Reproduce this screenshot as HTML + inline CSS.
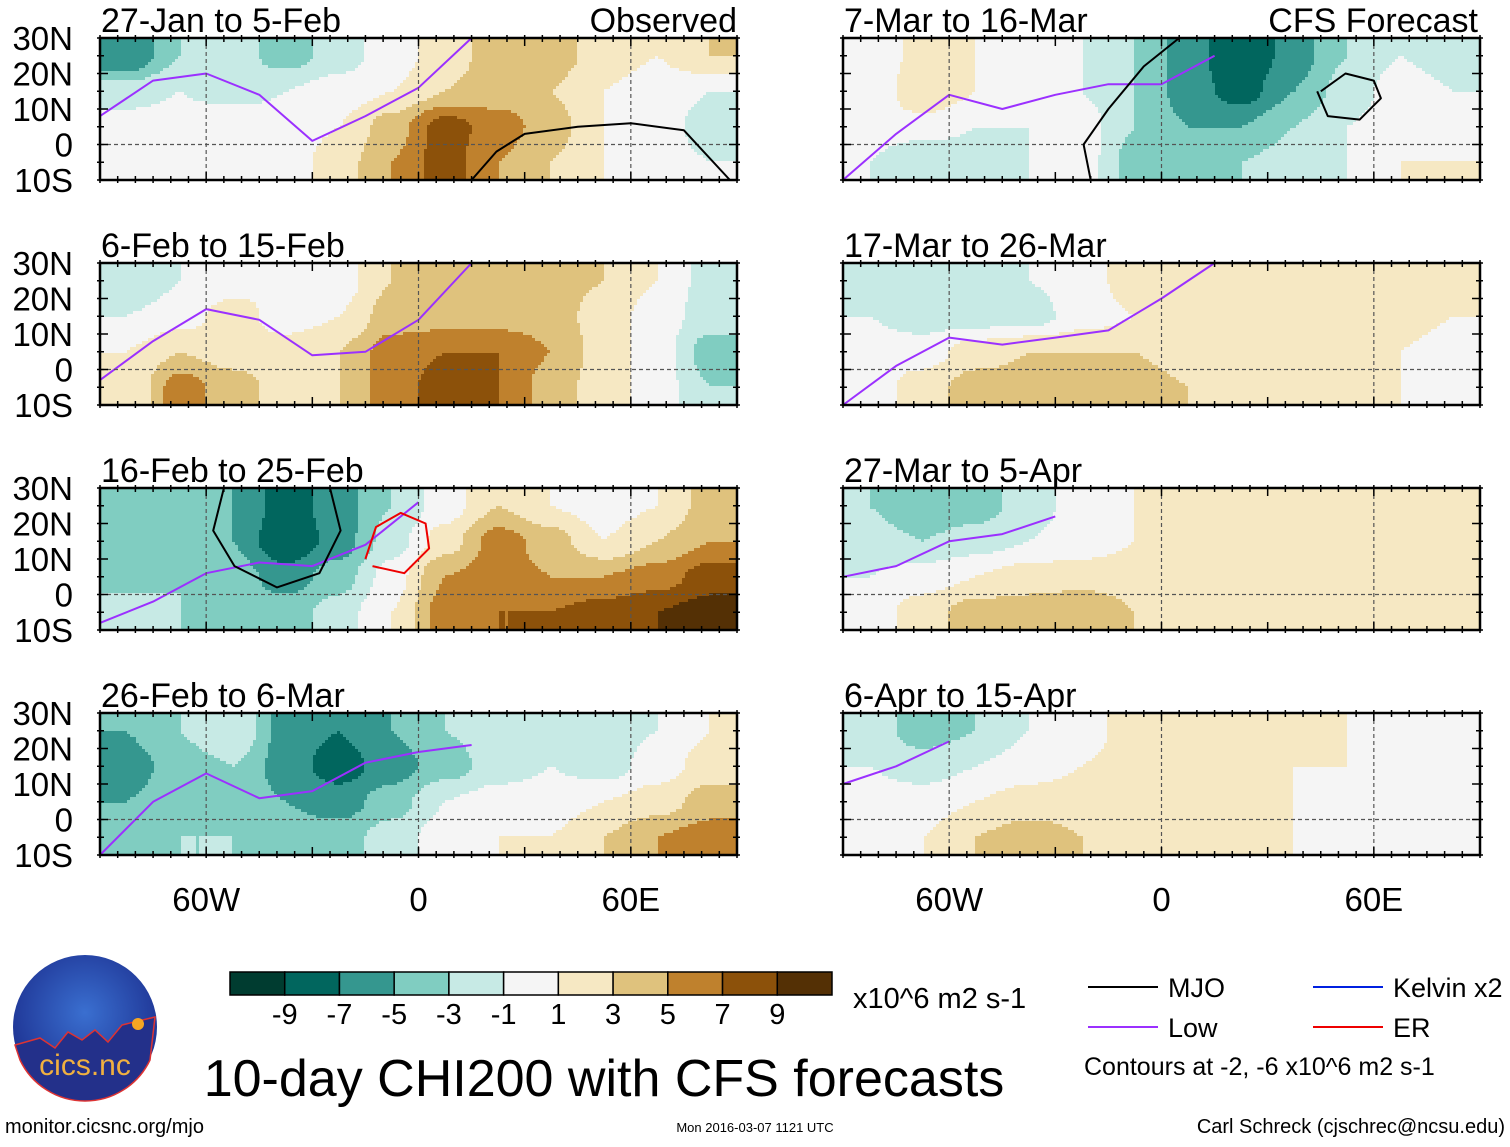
<!DOCTYPE html>
<html><head><meta charset="utf-8">
<style>
html,body{margin:0;padding:0;background:#fff;}
body{width:1510px;height:1142px;overflow:hidden;font-family:"Liberation Sans",Arial,sans-serif;}
</style></head>
<body>
<svg id="fig" width="1510" height="1142" viewBox="0 0 1510 1142" xmlns="http://www.w3.org/2000/svg" font-family="Liberation Sans, Arial, sans-serif">
<defs>
<radialGradient id="logoGrad" cx="50%" cy="40%" r="60%"><stop offset="0" stop-color="#3a6fd0"/><stop offset="1" stop-color="#1c2f8f"/></radialGradient>
</defs>
</svg>
<script>
// ---- data ----
const lonCenters = [-82.5,-67.5,-52.5,-37.5,-22.5,-7.5,7.5,22.5,37.5,52.5,67.5,82.5];
const latCenters = [25,15,5,-5];
const panelTitles = ["27-Jan to 5-Feb","6-Feb to 15-Feb","16-Feb to 25-Feb","26-Feb to 6-Mar","7-Mar to 16-Mar","17-Mar to 26-Mar","27-Mar to 5-Apr","6-Apr to 15-Apr"];
const p1 = [[-7,-3,-2,-4,-2,0,2,4,4,2,1,3],[-2,-1,-2,-1,0,1,3,4,3,1,0,-1],[0,0,1,0,1,4,8,6,4,1,0,-2],[0,1,0,0,2,5,8,5,3,1,0,-1]];
const p2 = [[-3,-1,0,1,0,3,3,4,4,3,1,-2],[-1,0,2,0,1,4,4,4,4,2,0,-2],[1,3,2,2,3,6,7,7,5,2,0,-4],[1,6,4,2,3,6,8,7,4,2,0,-3]];
const p3 = [[-4,-5,-5,-8,-6,-3,0,3,1,0,1,4],[-5,-4,-5,-9,-6,-2,2,6,4,1,3,5],[-4,-3,-4,-6,-4,0,5,6,5,5,6,8],[-2,-3,-4,-4,-2,1,6,7,7,8,9,10]];
const p4 = [[-5,-3,-1,-6,-7,-5,-3,-2,-1,-2,-1,1],[-6,-4,-3,-6,-8,-6,-4,-2,-1,-2,0,2],[-5,-4,-4,-5,-6,-4,-1,0,0,1,2,4],[-4,-3,-3,-4,-4,-2,0,1,1,3,5,6]];
const p5 = [[-1,2,1,-1,-1,-3,-6,-9,-6,-3,-1,-2],[-1,3,1,-1,-1,-3,-6,-8,-5,-2,0,-1],[0,0,-1,-1,0,-3,-5,-5,-3,-1,0,0],[-1,-3,-2,-1,0,-4,-4,-3,-2,-1,1,1]];
const p6 = [[-2,-3,-2,-1,0,2,2,2,2,2,2,1],[-1,-2,-2,-2,0,1,2,2,2,2,2,1],[0,0,2,3,3,3,2,2,2,2,1,0],[0,2,4,4,4,4,3,2,1,1,1,-1]];
const p7 = [[-3,-5,-4,-2,0,1,2,3,2,2,2,1],[-2,-3,-2,-1,0,1,2,2,2,2,2,3],[-1,0,1,2,2,2,2,2,2,2,2,2],[0,2,4,4,5,3,2,1,1,1,1,1]];
const p8 = [[-2,-4,-3,-1,0,2,2,3,2,1,0,-1],[-1,-2,-1,0,1,2,2,2,1,1,0,-1],[0,0,1,2,2,2,2,1,1,0,0,-1],[0,1,3,4,3,2,1,1,1,0,0,0]];
const panelFields = [p1,p2,p3,p4,p5,p6,p7,p8];
const lowLons = [-90,-75,-60,-45,-30,-15,0,15,30,45,60,75,90];
const lowLats = [
 [8,18,20,14,1,8,16,30,null,null,null,null,null],
 [-3,8,17,14,4,5,14,30,null,null,null,null,null],
 [-8,-2,6,9,8,14,26,null,null,null,null,null,null],
 [-10,5,13,6,8,16,19,21,null,null,null,null,null],
 [-10,3,14,10,14,17,17,25,null,null,null,null,null],
 [-10,1,9,7,9,11,20,30,null,null,null,null,null],
 [5,8,15,17,22,null,null,null,null,null,null,null,null],
 [10,15,22,null,null,null,null,null,null,null,null,null,null]
];
const cbBounds = ["-9","-7","-5","-3","-1","1","3","5","7","9"];
const cbColors = ["#003c30","#01665e","#35978f","#80cdc1","#c7eae5","#f5f5f5","#f6e8c3","#dfc27d","#bf812d","#8c510a","#543005"];
const latTicks = ["30N","20N","10N","0","10S"];
const lonTickLabels = ["60W","0","60E"];
const lonTickVals = [-60,0,60];

const NS="http://www.w3.org/2000/svg";
const svg=document.getElementById('fig');
function mk(tag,attrs,parent){const e=document.createElementNS(NS,tag);for(const k in attrs)e.setAttribute(k,attrs[k]);(parent||svg).appendChild(e);return e;}
const colX=[100,843], W=637, rowY=[38,263,488,713], H=142;
function colorIdx(v){const b=[-9,-7,-5,-3,-1,1,3,5,7,9];let i=0;while(i<b.length&&v>=b[i])i++;return i;}
function interp(f,lon,lat){
  const cl=(v,a,b)=>Math.max(a,Math.min(b,v));
  let fx=cl((lon+82.5)/15,0,11), fy=cl((25-lat)/10,0,3);
  let i=Math.min(10,Math.floor(fx)), j=Math.min(2,Math.floor(fy));
  let tx=fx-i, ty=fy-j;
  tx=tx*tx*(3-2*tx); ty=ty*ty*(3-2*ty);
  const a=f[j][i]*(1-tx)+f[j][i+1]*tx, b=f[j+1][i]*(1-tx)+f[j+1][i+1]*tx;
  return a*(1-ty)+b*ty;
}

for(let p=0;p<8;p++){
  const cx=colX[p<4?0:1], cy=rowY[p%4];
  const xs=lon=>cx+(lon+90)/180*W, ys=lat=>cy+(30-lat)/40*H;
  const g=mk('g',{});
  
  
  const cid='clip'+p;
  const cp=mk('clipPath',{id:cid},g); mk('rect',{x:cx,y:cy,width:W,height:H},cp);
  const cg=mk('g',{'clip-path':'url(#'+cid+')','shape-rendering':'crispEdges'},g);
  const f=panelFields[p];
  const step=3;
  function flush(x0,x1,y,c){
    const r=mk('rect',{x:x0,y:y,width:x1-x0,height:step,fill:cbColors[c]},cg);
    
    
  }
  for(let y=cy;y<cy+H;y+=step){
    const lat=30-(y+step/2-cy)/H*40;
    let runStart=cx, runC=-1;
    for(let x=cx;x<cx+W;x+=step){
      const c=colorIdx(interp(f,(x+step/2-cx)/W*180-90,lat));
      if(c!==runC){
        if(runC>=0)flush(runStart,x,y,runC);
        runStart=x;runC=c;
      }
    }
    flush(runStart,cx+W+1,y,runC);
  }
  let d='';const L=lowLats[p];
  for(let i=0;i<L.length;i++){if(L[i]===null)continue;d+=(d?'L':'M')+xs(lowLons[i]).toFixed(1)+','+ys(L[i]).toFixed(1);}
  const low=mk('path',{d:d,fill:'none',stroke:'#9b30ff','stroke-width':2,'stroke-linejoin':'round'},g);
  
  
  mk('line',{x1:cx,x2:cx+W,y1:ys(0),y2:ys(0),stroke:'#555','stroke-dasharray':'4,3','stroke-width':1.2},g);
  lonTickVals.forEach(v=>mk('line',{x1:xs(v),x2:xs(v),y1:cy,y2:cy+H,stroke:'#555','stroke-dasharray':'4,3','stroke-width':1.2},g));
  const fr=mk('rect',{x:cx,y:cy,width:W,height:H,fill:'none',stroke:'#000','stroke-width':2.5},g);
  
  
  for(let lon=-90;lon<=90;lon+=5){const big=lon%30==0;const l=big?8:4;
    mk('line',{x1:xs(lon),x2:xs(lon),y1:cy-3,y2:cy+l,stroke:'#000','stroke-width':1.5},g);
    mk('line',{x1:xs(lon),x2:xs(lon),y1:cy+H+3,y2:cy+H-l,stroke:'#000','stroke-width':1.5},g);}
  for(let lat=-10;lat<=30;lat+=5){const l=lat%10==0?8:4;
    mk('line',{x1:cx-3,x2:cx+l,y1:ys(lat),y2:ys(lat),stroke:'#000','stroke-width':1.5},g);
    mk('line',{x1:cx+W+3,x2:cx+W-l,y1:ys(lat),y2:ys(lat),stroke:'#000','stroke-width':1.5},g);}
  const t=mk('text',{x:cx+1,y:cy-6,'font-size':34,fill:'#000'},g);t.textContent=panelTitles[p];
  
  
  if(p<4){latTicks.forEach((s,i)=>{const tt=mk('text',{x:73,y:ys(30-i*10)+12,'font-size':33,'text-anchor':'end'});tt.textContent=s;
    
    });}
}
const mjoLon1=[15,22,30,45,60,75,88], mjoLat1=[-10,-2,3,5,6,4,-10];
const mjoLon3=[-55,-58,-52,-40,-28,-22,-25], mjoLat3=[30,18,8,2,6,18,30];
const erLon3=[-15,-12,-5,2,3,-4,-13], erLat3=[10,19,23,20,13,6,8];
const mjoLon5=[-20,-22,-15,-5,5], mjoLat5=[-10,0,10,22,30];
const mjoLon5b=[45,52,60,62,56,47,44], mjoLat5b=[15,20,18,13,7,8,15];
function drawCurve(p,lons,lats,color,name){
  const cx=colX[p<4?0:1], cy=rowY[p%4];
  let d='';lons.forEach((lo,i)=>{d+=(i?'L':'M')+(cx+(lo+90)/180*W).toFixed(1)+','+(cy+(30-lats[i])/40*H).toFixed(1);});
  const e=mk('path',{d:d,fill:'none',stroke:color,'stroke-width':2,'stroke-linejoin':'round'});
  
  
}
drawCurve(0,mjoLon1,mjoLat1,'#000','mjo-contour');
drawCurve(2,mjoLon3,mjoLat3,'#000','mjo-contour');
drawCurve(2,erLon3,erLat3,'#e00','er-contour');
drawCurve(4,mjoLon5,mjoLat5,'#000','mjo-contour');
drawCurve(4,mjoLon5b,mjoLat5b,'#000','mjo-contour');

function txt(x,y,s,size,anchor,name,extra){const e=mk('text',Object.assign({x:x,y:y,'font-size':size,'text-anchor':anchor||'start'},extra||{}));e.textContent=s;
  
  return e;}
txt(737,32,"Observed",34,'end','observed-label');
txt(1478,32,"CFS Forecast",34,'end','forecast-label');
[0,1].forEach(c=>lonTickVals.forEach((v,i)=>txt(colX[c]+(v+90)/180*W,911,lonTickLabels[i],33,'middle','lon-tick-label')));

const cbX=230,cbW=602/11,cbY=972,cbH=23;
cbColors.forEach((col,i)=>{const r=mk('rect',{x:cbX+i*cbW,y:cbY,width:cbW,height:cbH,fill:col,stroke:'#000','stroke-width':1.5});
  
  });
cbBounds.forEach((s,i)=>txt(cbX+(i+1)*cbW,1024,s,29,'middle','colorbar-label'));
txt(853,1008,"x10^6 m2 s-1",29,'start','colorbar-units');
txt(604,1096,"10-day CHI200 with CFS forecasts",52,'middle','figure-title');

const leg=[["MJO","#000",1088,987],["Low","#9b30ff",1088,1027],["Kelvin x2","#0020e0",1313,987],["ER","#e00",1313,1027]];
leg.forEach(l=>{const ln=mk('line',{x1:l[2],x2:l[2]+70,y1:l[3],y2:l[3],stroke:l[1],'stroke-width':2});
  
  
  txt(l[2]+80,l[3]+10,l[0],27,'start','legend-entry');});
txt(1084,1075,"Contours at -2, -6 x10^6 m2 s-1",25,'start','contour-note');

txt(5,1133,"monitor.cicsnc.org/mjo",20,'start','footer-url');
txt(755,1132,"Mon 2016-03-07 1121 UTC",13,'middle','footer-date');
txt(1505,1133,"Carl Schreck (cjschrec@ncsu.edu)",20,'end','footer-author');

const lg=mk('g',{});


mk('circle',{cx:85,cy:1027,r:72,fill:'url(#logoGrad)'},lg);
mk('path',{d:'M15,1045 L40,1038 L55,1048 L68,1032 L82,1040 L95,1030 L108,1042 L122,1025 L155,1017 L150,1060 A72,72 0 0 1 20,1060 Z',fill:'#23308a',stroke:'#d33','stroke-width':1.5},lg);
mk('circle',{cx:138,cy:1024,r:6,fill:'#f5a623'},lg);
const lt=mk('text',{x:85,y:1075,'font-size':30,'text-anchor':'middle',fill:'#f0b040'},lg);lt.textContent='cics.nc';
</script>
</body></html>
